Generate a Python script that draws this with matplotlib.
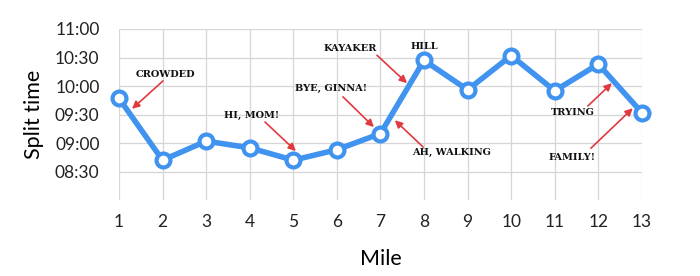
import matplotlib
matplotlib.use("Agg")
import matplotlib.pyplot as plt

# split times per mile (mm:ss)
miles = list(range(1, 14))
splits = ["09:47", "08:42", "09:02", "08:55", "08:42", "08:53", "09:10",
          "10:27", "09:56", "10:32", "09:55", "10:23", "09:32"]
ytick_labels = ["08:30", "09:00", "09:30", "10:00", "10:30", "11:00"]

# notes: text, text position, arrow tail, arrow head (None = no arrow)
notes = [
    ("CROWDED", (2.06, 10.21), (2.01, 10.09), (1.30, 9.60)),
    ("HI, MOM!", (4.05, 9.49), (4.35, 9.37), (5.06, 8.86)),
    ("BYE, GINNA!", (5.86, 9.95), (6.14, 9.81), (6.85, 9.28)),
    ("KAYAKER", (6.30, 10.65), (6.92, 10.54), (7.61, 10.05)),
    ("HILL", (8.00, 10.70), None, None),
    ("AH, WALKING", (8.62, 8.84), (7.98, 8.93), (7.33, 9.40)),
    ("TRYING", (11.42, 9.54), (11.76, 9.65), (12.31, 10.05)),
    ("FAMILY!", (11.39, 8.75), (11.83, 8.91), (12.79, 9.61)),
]


def to_min(s):
    m, sec = s.split(":")
    return int(m) + int(sec) / 60.0


plt.rcParams['font.family'] = ['Lato', 'DejaVu Sans']

fig = plt.figure(figsize=(7, 2.76), dpi=100)
ax = fig.add_axes([0.17, 0.275, 0.747, 0.62])

y = [to_min(s) for s in splits]
ax.plot(miles, y, color="#4093ef", lw=4, marker="o", ms=10,
        mfc="white", mec="#4093ef", mew=3, clip_on=False, zorder=3)

ax.set_xlim(1, 13)
ax.set_ylim(8, 11)
ax.set_xticks(miles)
ax.set_yticks([to_min(s) for s in ytick_labels])
ax.set_yticklabels(ytick_labels)
ax.tick_params(length=0, labelsize=12.5, colors="#222222")
ax.tick_params(axis="x", pad=10)
ax.tick_params(axis="y", pad=14)
ax.grid(True, color="#d6d6d6", lw=0.9)
for sp in ax.spines.values():
    sp.set_visible(False)
ax.set_axisbelow(True)

ax.set_ylabel("Split time", fontsize=15.5, labelpad=8)
ax.set_xlabel("Mile", fontsize=15.5, labelpad=14)

for txt, pos, tail, head in notes:
    ax.text(pos[0], pos[1], txt, ha="center", va="center", fontsize=7,
            fontweight="bold", family="DejaVu Serif", color="#111111")
    if head is not None:
        ax.annotate("", xy=head, xytext=tail,
                    arrowprops=dict(arrowstyle="-|>", color="#e2383f",
                                    lw=1.2, mutation_scale=11,
                                    shrinkA=0, shrinkB=0))

fig.savefig("out.png", dpi=100)
